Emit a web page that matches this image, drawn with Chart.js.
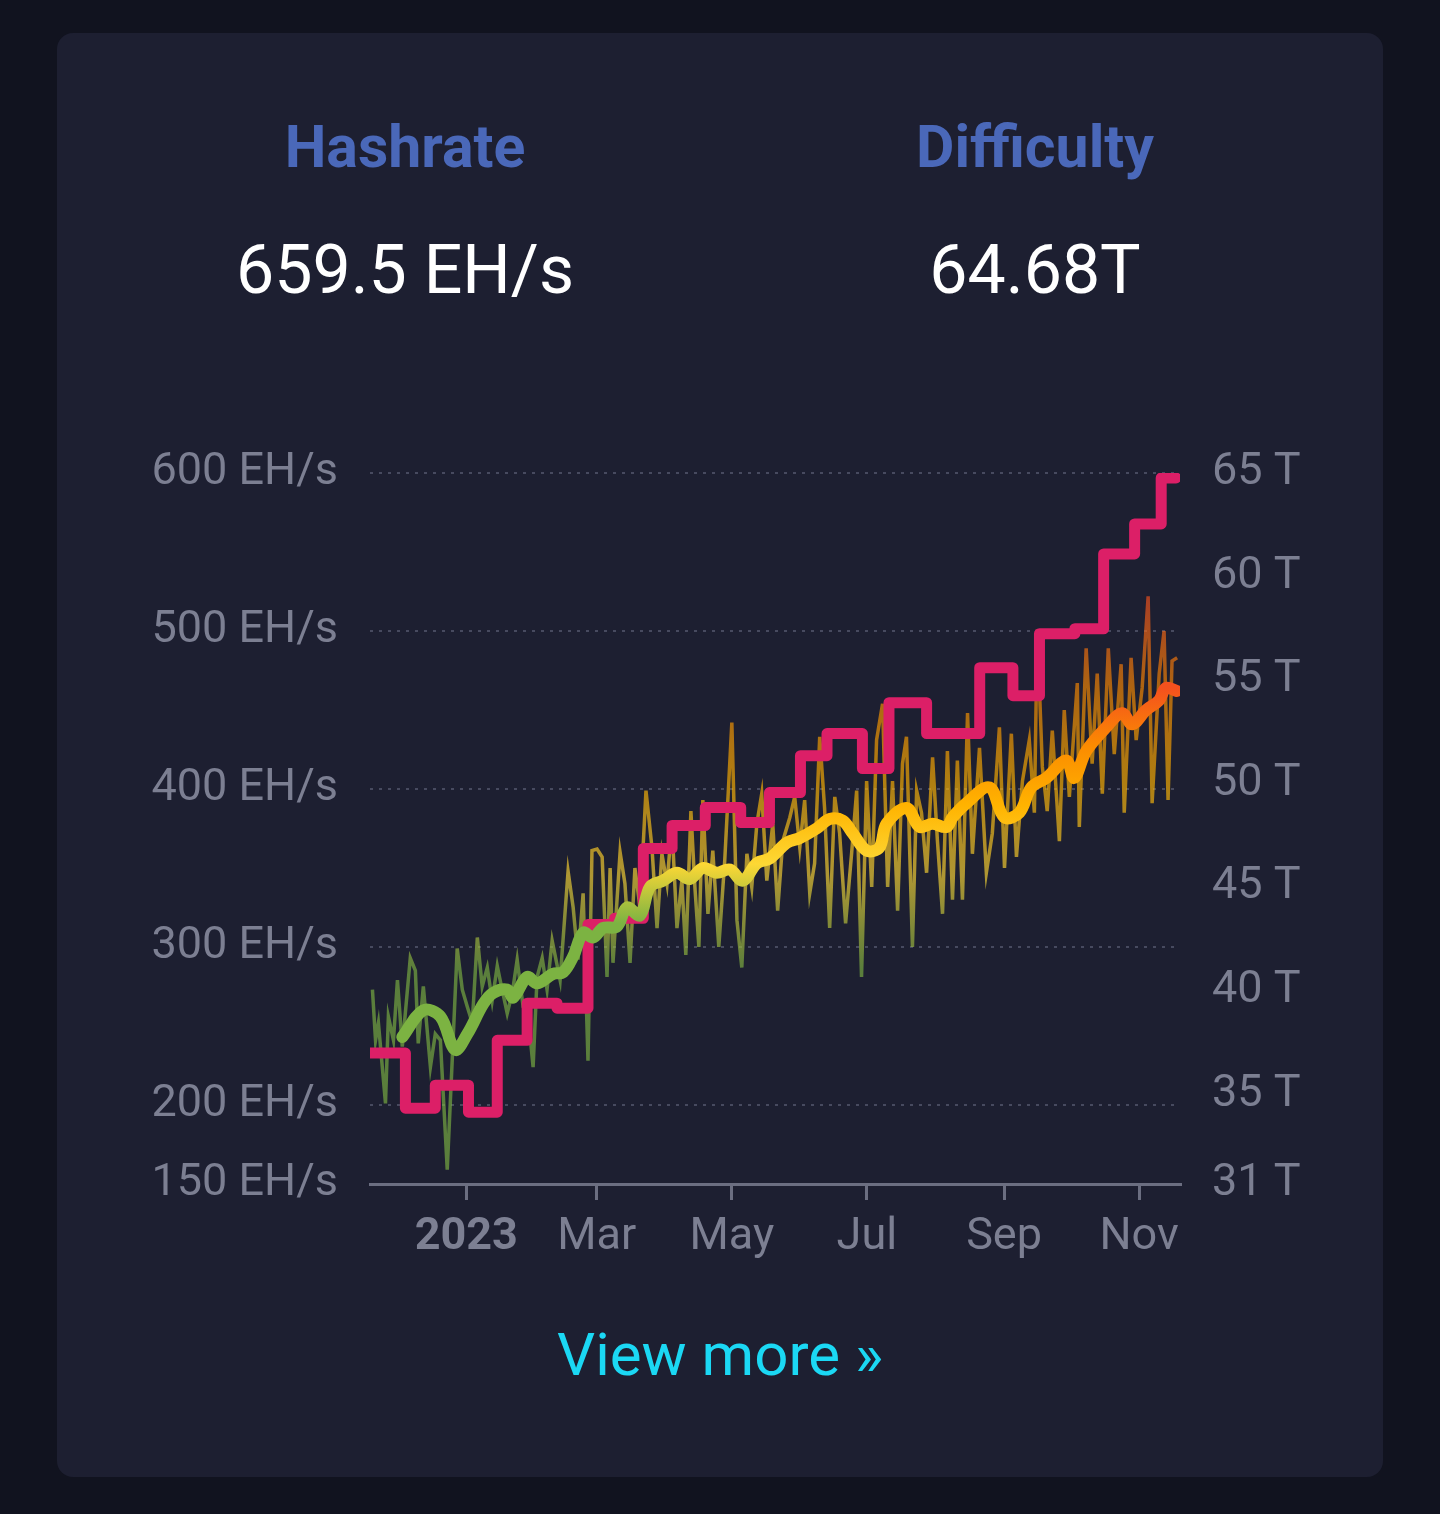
<!DOCTYPE html>
<html>
<head>
<meta charset="utf-8">
<script src="https://cdn.jsdelivr.net/npm/chart.js@4.4.0/dist/chart.umd.min.js"></script>
<style>
  html, body { margin: 0; padding: 0; background: #11131f; width: 1440px; height: 1514px; overflow: hidden; font-family: Roboto, "Noto Sans", sans-serif; }
  .card { position: absolute; left: 57px; top: 33px; width: 1326px; height: 1444px; background: #1d1f31; border-radius: 16px; }
  .title { position: absolute; width: 640px; top: 107px; text-align: center; font-weight: 700; font-size: 59px; line-height: 80px; color: #4a68b9; }
  .value { position: absolute; width: 640px; top: 225px; text-align: center; font-size: 68px; line-height: 90px; color: #ffffff; }
  .more { position: absolute; left: 0; width: 1440px; top: 1320px; text-align: center; font-size: 60px; line-height: 70px; color: #1bd8f4; }
  #chart { position: absolute; left: 100px; top: 414px; }
</style>
</head>
<body>
<div class="card"></div>
<div class="title" style="left:85px">Hashrate</div>
<div class="title" style="left:715px">Difficulty</div>
<div class="value" style="left:85px">659.5 EH/s</div>
<div class="value" style="left:715px">64.68T</div>
<canvas id="chart" width="1240" height="866"></canvas>
<div class="more">View more »</div>
<script>
// x = days since 1 Jan 2023
const xTickDays = [0, 59, 120, 181, 243, 304];
const xTickLabels = ["2023", "Mar", "May", "Jul", "Sep", "Nov"];
const hashTicks = [150, 200, 300, 400, 500, 600];
const diffTicks = [30.67, 35, 40, 45, 50, 55, 60, 65];

// daily hashrate (EH/s)
const hrDays = [-42.4,-41.0,-39.7,-36.5,-35.2,-32.9,-31.1,-28.9,-25.3,-23.0,
  -21.7,-19.4,-16.2,-14.0,-11.7,-8.6,-6.3,-4.1,-1.8,0.5,
  2.7,5.0,7.2,9.5,11.7,14.0,15.3,18.5,20.8,23.0,
  25.7,28.0,30.2,32.0,34.3,36.5,38.8,42.4,46.0,48.3,
  50.5,52.8,55.0,56.8,59.1,61.4,63.6,65.0,66.3,69.5,
  71.7,74.0,76.2,78.5,81.2,83.9,86.2,88.4,90.7,92.9,
  95.2,97.4,99.2,101.5,103.3,105.1,106.9,109.2,111.4,114.1,
  116.8,120.0,122.3,124.5,126.8,129.0,131.3,133.5,135.8,138.5,
  140.7,143.0,146.2,148.4,150.7,152.9,155.2,157.4,159.7,161.9,
  164.2,166.5,168.7,171.4,174.1,176.4,178.6,180.9,183.2,185.4,
  188.1,190.4,192.6,194.9,197.1,198.9,201.6,203.5,205.7,208.0,
  210.7,212.9,215.2,217.4,219.7,221.9,224.2,226.5,228.7,231.9,
  235.0,237.7,240.9,243.2,246.3,248.6,251.3,254.4,256.7,258.0,
  260.3,262.5,264.8,268.0,270.2,272.5,276.1,277.0,280.1,282.8,
  285.1,287.4,290.1,292.8,295.9,297.3,300.4,302.7,305.4,308.1,
  309.9,313.1,315.3,317.1,318.9,321.2];
const hrValues = [273,241,252,201,256,241,279,237,293,285,
  239,275,224,245,241,159,230,299,273,262,
  252,306,275,287,266,288,279,258,271,292,
  262,256,224,281,293,273,304,279,348,325,
  292,334,228,361,362,357,281,350,290,360,
  340,290,350,325,399,363,312,359,340,378,
  312,342,295,386,338,300,393,321,361,300,
  355,442,317,287,359,338,378,397,342,378,
  323,367,382,395,363,393,334,353,433,388,
  312,395,372,315,359,399,281,405,338,431,
  454,338,405,323,416,433,300,399,385,347,
  420,367,321,424,330,418,330,448,359,426,
  347,372,439,350,435,357,405,431,385,501,
  414,386,437,367,450,395,467,376,489,416,
  473,397,489,422,479,385,483,431,464,522,
  391,473,500,393,481,483];

// moving average hashrate (EH/s)
const maDays = [-28.9,-19.4,-11.7,-5.0,0.5,7.7,12.2,18.5,21.2,27.5,
  32.0,39.2,43.8,48.3,52.8,57.3,61.8,68.1,72.6,78.5,
  83.0,88.9,95.2,101.0,106.9,113.2,119.1,124.9,131.3,137.1,
  144.8,150.7,158.3,164.2,170.1,174.6,180.9,186.7,189.9,198.9,
  204.8,210.6,217.0,219.7,226.0,236.4,243.1,249.9,255.3,262.1,
  271.1,274.7,280.1,289.1,296.3,300.9,307.2,313.0,316.2,321.0];
const maValues = [243,260,256,235,245,264,271,273,268,281,
  277,283,284,294,309,306,312,313,325,320,
  338,342,347,343,350,347,349,342,353,356,
  366,369,375,381,380,372,361,363,378,388,
  376,378,376,382,391,401,382,385,401,407,
  418,407,424,439,448,441,450,456,464,462];

// difficulty (T), one entry per adjustment
const diffDays = [-43.5,-27.5,-14,1,14,27.5,41,55,67,80,93,108,124,137,151,163,179,191,208,221,232,247,259,275,288,302,314,320.7];
const diffValues = [36.99,34.33,35.44,34.14,37.61,39.40,39.16,43.2,43.5,46.87,47.98,48.85,48.12,49.57,51.35,52.42,50.73,53.91,52.42,52.42,55.60,54.25,57.24,57.48,61.09,62.54,64.76,64.76];

const tickColor = "#7c7f92";
const axisColor = "#6b6e81";
const gridColor = "#474a5f";
const gradStops = ["#F4511E", "#FB8C00", "#FFB300", "#FDD835", "#7CB342"];

function hashGradient(ctx, values, alpha) {
  const chart = ctx.chart;
  if (!chart.chartArea) return "transparent";
  const y = chart.scales.y;
  const max = Math.max(...values);
  const min = Math.min(...values);
  const top = y.getPixelForValue(max);
  const bottom = y.getPixelForValue(max - 0.65 * (max - min));
  const g = chart.ctx.createLinearGradient(0, top, 0, bottom);
  gradStops.forEach(function (c, i) {
    g.addColorStop(i / (gradStops.length - 1), c + alpha);
  });
  return g;
}

const tickFont = { family: "Roboto", size: 45 };

new Chart(document.getElementById("chart").getContext("2d"), {
  type: "line",
  data: {
    datasets: [
      {
        label: "Hashrate (MA)",
        data: maDays.map(function (d, i) { return { x: d, y: maValues[i] }; }),
        yAxisID: "y",
        borderColor: function (ctx) { return hashGradient(ctx, maValues, "FF"); },
        borderWidth: 12,
        tension: 0.35,
        pointRadius: 0,
        borderCapStyle: "round",
        borderJoinStyle: "round",
        order: 1,
      },
      {
        label: "Difficulty",
        data: diffDays.map(function (d, i) { return { x: d, y: diffValues[i] }; }),
        yAxisID: "y2",
        borderColor: "#dc1f67",
        borderWidth: 11,
        stepped: true,
        pointRadius: 0,
        borderCapStyle: "round",
        borderJoinStyle: "round",
        order: 2,
      },
      {
        label: "Hashrate",
        data: hrDays.map(function (d, i) { return { x: d, y: hrValues[i] }; }),
        yAxisID: "y",
        borderColor: function (ctx) { return hashGradient(ctx, hrValues, "A6"); },
        borderWidth: 3.5,
        tension: 0,
        pointRadius: 0,
        order: 3,
      },
    ],
  },
  options: {
    responsive: false,
    devicePixelRatio: 1,
    animation: false,
    layout: { padding: 0 },
    plugins: { legend: { display: false }, tooltip: { enabled: false } },
    scales: {
      x: {
        type: "linear",
        min: -43.5,
        max: 322.5,
        afterBuildTicks: function (s) { s.ticks = xTickDays.map(function (v) { return { value: v }; }); },
        afterFit: function (s) { s.height = 96; },
        grid: { drawOnChartArea: false, drawTicks: true, tickLength: 16, color: axisColor, lineWidth: 3 },
        border: { display: true, color: axisColor, width: 3 },
        ticks: {
          padding: 11,
          color: tickColor,
          autoSkip: false,
          maxRotation: 0,
          font: function (c) { return { family: "Roboto", size: 45, weight: c.index === 0 ? "bold" : "normal" }; },
          callback: function (v, i) { return xTickLabels[i]; },
        },
      },
      y: {
        position: "left",
        min: 150,
        max: 600,
        afterBuildTicks: function (s) { s.ticks = hashTicks.map(function (v) { return { value: v }; }); },
        afterFit: function (s) { s.width = 270; },
        grid: {
          drawTicks: false,
          lineWidth: 2,
          color: function (c) { return c.tick && c.tick.value === 150 ? "rgba(0,0,0,0)" : gridColor; },
        },
        border: { display: false, dash: [3, 6] },
        ticks: { padding: 32, color: tickColor, font: tickFont, callback: function (v) { return v + " EH/s"; } },
      },
      y2: {
        position: "right",
        min: 30.67,
        max: 65,
        afterBuildTicks: function (s) { s.ticks = diffTicks.map(function (v) { return { value: v }; }); },
        afterFit: function (s) { s.width = 160; },
        grid: { display: false, drawTicks: false },
        border: { display: false },
        ticks: { padding: 32, color: tickColor, font: tickFont, callback: function (v) { return Math.round(v) + " T"; } },
      },
    },
  },
});
</script>
</body>
</html>
